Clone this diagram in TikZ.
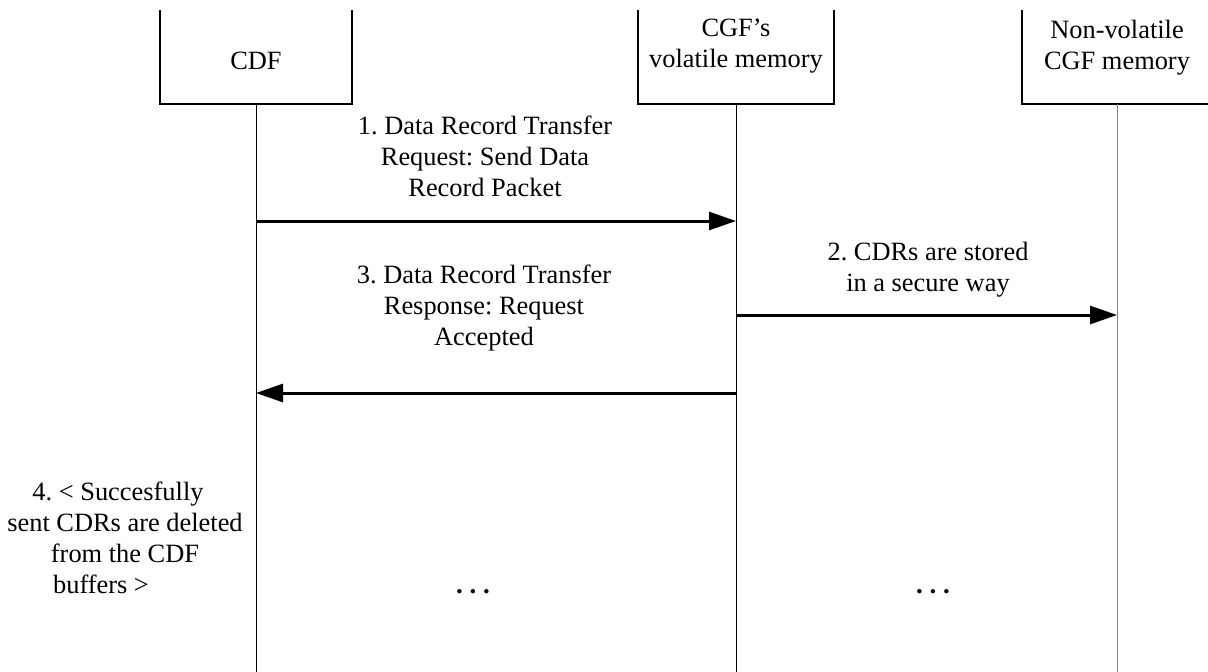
\documentclass[tikz,border=0pt]{standalone}
\usepackage{fontspec}
\setmainfont{Liberation Serif}
\usetikzlibrary{arrows.meta}
\frenchspacing
\begin{document}
\begin{tikzpicture}[x=1pt,y=-1pt,
  lbl/.style={font=\fontsize{26.4}{31}\selectfont, align=center, inner sep=0pt},
  dots/.style={font=\fontsize{27}{31}\selectfont\bfseries, inner sep=0pt, anchor=base},
  box/.style={line width=2pt},
  life/.style={line width=1pt},
  msg/.style={line width=3pt, -{Triangle[length=27pt,width=18pt]}}]
\useasboundingbox (0,0) rectangle (1208,672);
% boxes (top edge outside the picture)
\draw[box] (160,10) -- (160,104) -- (352,104) -- (352,10);
\draw[box] (638,10) -- (638,104) -- (834,104) -- (834,10);
\draw[box] (1022,10) -- (1022,104) -- (1214,104);
\node[lbl] (cdf) at (256,61) {CDF};
\node[lbl] (cgf) at (736,46) {CGF’s\\volatile memory};
\node[lbl] (nvm) at (1117,48) {Non-volatile\\CGF memory};
% lifelines
\coordinate (cdfTop) at (256,104);
\coordinate (cdfBot) at (256,672);
\coordinate (cgfTop) at (736,104);
\coordinate (cgfBot) at (736,672);
\coordinate (nvmTop) at (1117,104);
\coordinate (nvmBot) at (1117,672);
\draw[life] (cdfTop) -- (cdfBot);
\draw[life] (cgfTop) -- (cgfBot);
\draw[life, gray] (nvmTop) -- (nvmBot);
% message points
\coordinate (m1a) at (256,221);
\coordinate (m1b) at (736,221);
\coordinate (m2a) at (736,315);
\coordinate (m2b) at (1117,315);
\coordinate (m3a) at (736,393);
\coordinate (m3b) at (256,393);
\draw[msg] (m1a) -- (m1b);
\draw[msg] (m2a) -- (m2b);
\draw[msg] (m3a) -- (m3b);
% labels
\node[lbl] (t1) at (485,156) {1. Data Record Transfer\\Request: Send Data\\Record Packet};
\node[lbl] (t2) at (928,270) {2. CDRs are stored\\in a secure way};
\node[lbl] (t3) at (484,308) {3. Data Record Transfer\\Response: Request\\Accepted};
\node[lbl] (t4) at (125,538) {4. < Succesfully\hspace*{14pt}\\sent CDRs are deleted\\from the CDF\\buffers >\hspace*{48pt}};
\node[dots] (d1) at (473,593) {. . .};
\node[dots] (d2) at (933,593) {. . .};
\end{tikzpicture}
\end{document}
